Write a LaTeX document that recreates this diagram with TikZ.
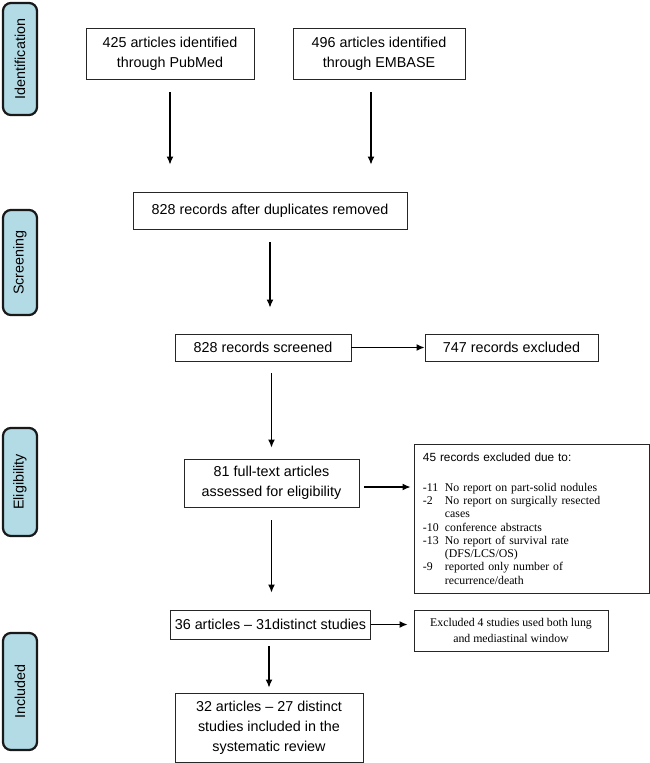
\documentclass[tikz,border=0pt]{standalone}
\usepackage{fontspec}
\setmainfont{Liberation Serif}
\setsansfont{Liberation Sans}
\usetikzlibrary{arrows.meta}
\definecolor{phase blue}{RGB}{178,219,230}
\tikzset{stage/.style={line width=1.6pt, draw=black!90, fill=phase blue, rounded corners=0.2cm, rotate=90, minimum height=0.85cm, inner sep=0pt, font=\sffamily\fontsize{10.2}{12}\selectfont}}
\tikzset{box/.style={draw=black!85, line width=0.6pt, inner sep=0pt, align=center, font=\sffamily\fontsize{10.2}{14.2}\selectfont}}
\tikzset{note/.style={draw=black!85, line width=0.6pt, inner sep=0pt, font=\fontsize{8.4}{9.45}\selectfont}}
\tikzset{flow/.style={line width=0.8pt, -{Latex[length=0.2cm, width=0.17cm]}}}
\newcommand{\itm}[1]{\makebox[0.55cm][l]{#1}}

\begin{document}
\begin{tikzpicture}[x=0.025cm, y=-0.025cm]
                \useasboundingbox (0, 0) rectangle (650, 763);
                
                \foreach \name/\y/\len in {Identification/59/2.8, Screening/262.5/2.625, Eligibility/482/2.7, Included/691.5/2.925} {
                    \node[stage, minimum width=\len cm] (\name) at (20, \y) {\name};
                }
                
                \node[box, minimum width=4.2cm, minimum height=1.275cm] (pubmed) at (170, 53.5) {425 articles identified\\ through PubMed};
                \node[box, minimum width=4.3cm, minimum height=1.275cm] (embase) at (379, 53.5) {496 articles identified\\ through EMBASE};
                \node[box, minimum width=6.85cm, minimum height=0.925cm] (dup) at (270, 210.5) {828 records after duplicates removed};
                \node[box, minimum width=4.4cm, minimum height=0.675cm] (scr) at (263, 347.5) {828 records screened};
                \node[box, minimum width=4.325cm, minimum height=0.675cm] (excl747) at (511.5, 347.5) {747 records excluded};
                \node[box, minimum width=4.375cm, minimum height=1.2cm] (b81) at (271.5, 483) {81 full-text articles\\ assessed for eligibility};
                \node[note, minimum width=5.875cm, minimum height=3.725cm, text width=5.425cm, align=left] (excl45) at (531.5, 518.5) {{\sffamily\fontsize{8.4}{9.45}\selectfont 45 records excluded due to:}\\[11.9pt]
                    \itm{-11}No report on part-solid nodules\\
                    \itm{-2}No report on surgically resected\\
                    \itm{}cases\\
                    \itm{-10}conference abstracts\\
                    \itm{-13}No report of survival rate\\
                    \itm{}(DFS/LCS/OS)\\
                    \itm{-9}reported only number of\\
                    \itm{}recurrence/death};
                \node[box, minimum width=5cm, minimum height=0.725cm] (b36) at (270.5, 624.5) {36 articles – 31distinct studies};
                \node[note, minimum width=4.85cm, minimum height=1.025cm, align=center, font=\fontsize{8.4}{11.1}\selectfont] (excl4) at (511, 630.5) {Excluded 4 studies used both lung\\ and mediastinal window};
                \node[box, minimum width=4.7cm, minimum height=1.725cm] (b32) at (269, 727.5) {32 articles – 27 distinct\\ studies included in the\\ systematic review};
                
                \draw[flow, shorten <=0.325cm, shorten >=0.675cm] (pubmed.south) -- (pubmed.south |- dup.north);
                \draw[flow, shorten <=0.325cm, shorten >=0.675cm] ([xshift=-0.2cm]embase.south) -- ([xshift=-0.2cm]embase.south |- dup.north);
                \draw[flow, shorten <=0.325cm, shorten >=0.65cm] (dup.south) -- (dup.south |- scr.north);
                \draw[flow] (scr) -- (excl747);
                \draw[flow, shorten <=0.3cm, shorten >=0.275cm] (b81.north |- scr.south) -- (b81.north);
                \draw[flow, shorten <=0.11cm, shorten >=0.075cm] ([yshift=-0.1cm]b81.east) -- ([yshift=-0.1cm]b81.east -| excl45.west);
                \draw[flow, shorten <=0.325cm, shorten >=0.425cm] (b81.south) -- (b81.south |- b36.north);
                \draw[flow, shorten >=0.15cm] (b36.east) -- (b36.east -| excl4.west);
                \draw[flow, shorten <=0.175cm, shorten >=0.125cm] (b32.north |- b36.south) -- (b32.north);
            \end{tikzpicture}
\end{document}
